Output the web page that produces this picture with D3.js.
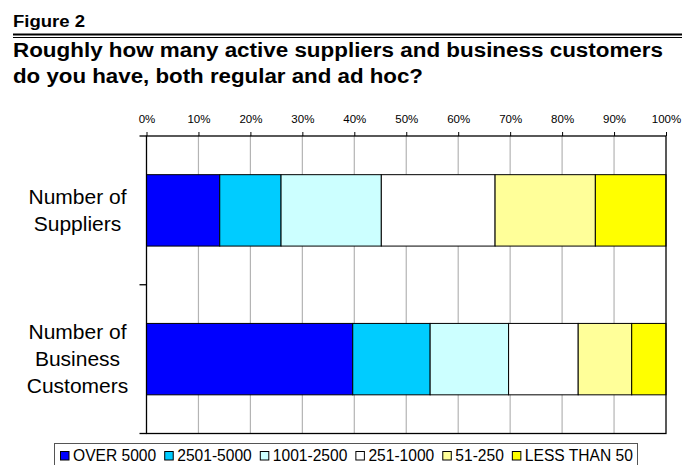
<!DOCTYPE html>
<html>
<head>
<meta charset="utf-8">
<script src="https://cdn.jsdelivr.net/npm/d3@7"></script>
<style>
  html, body { margin: 0; padding: 0; background: #fff; }
  svg { display: block; font-family: "Liberation Sans", Arial, sans-serif; }
</style>
</head>
<body>
<svg id="chart" width="682" height="465"></svg>
<script>
// Survey answers, share of respondents per size band (percent)
const categories = ["Number of\nSuppliers", "Number of\nBusiness\nCustomers"];
const bands = ["OVER 5000", "2501-5000", "1001-2500", "251-1000", "51-250", "LESS THAN 50"];
const suppliers = [14.1, 11.8, 19.3, 21.9, 19.3, 13.6];
const customers = [39.7, 14.9, 15.1, 13.4, 10.3, 6.6];
const tickValues = [0, 10, 20, 30, 40, 50, 60, 70, 80, 90, 100];
const bandColors = ["#0000FF", "#00CCFF", "#CCFFFF", "#FFFFFF", "#FFFF99", "#FFFF00"];

const seriesByCategory = [suppliers, customers];

const svg = d3.select("#chart");

// Header
svg.append("text")
  .attr("x", 13).attr("y", 27)
  .attr("font-size", 16).attr("font-weight", "bold")
  .attr("textLength", 72).attr("lengthAdjust", "spacingAndGlyphs")
  .text("Figure 2");
svg.append("line").attr("x1", 13).attr("x2", 682).attr("y1", 34.5).attr("y2", 34.5)
  .attr("stroke", "#000").attr("stroke-width", 2);
svg.append("line").attr("x1", 13).attr("x2", 682).attr("y1", 37.5).attr("y2", 37.5)
  .attr("stroke", "#000").attr("stroke-width", 1);
const titleLines = [
  { t: "Roughly how many active suppliers and business customers", w: 650, y: 57 },
  { t: "do you have, both regular and ad hoc?", w: 410, y: 83 }
];
svg.selectAll("text.title").data(titleLines).join("text")
  .attr("class", "title")
  .attr("x", 13).attr("y", d => d.y)
  .attr("font-size", 19.5).attr("font-weight", "bold")
  .attr("textLength", d => d.w).attr("lengthAdjust", "spacingAndGlyphs")
  .text(d => d.t);

// Plot geometry
const plotLeft = 146.5, plotRight = 666, plotTop = 136, plotBottom = 433.5;
const x = d3.scaleLinear().domain([0, 100]).range([plotLeft, plotRight]);
const y = d3.scaleBand().domain(categories).range([plotTop, plotBottom]).padding(0);
const barH = y.bandwidth() * 0.48;

// Vertical gridlines
svg.append("g").selectAll("line").data(tickValues.slice(1, -1)).join("line")
  .attr("x1", d => x(d)).attr("x2", d => x(d))
  .attr("y1", plotTop).attr("y2", plotBottom)
  .attr("stroke", "#b4b4b4").attr("stroke-width", 1.2);

// Stacked bars
const stackRows = categories.map((c, i) => {
  let acc = 0;
  return seriesByCategory[i].map((v, j) => {
    const seg = { cat: c, band: j, x0: acc, x1: acc + v };
    acc += v;
    return seg;
  });
}).flat();

svg.append("g").selectAll("rect").data(stackRows).join("rect")
  .attr("x", d => x(d.x0))
  .attr("width", d => x(d.x1) - x(d.x0))
  .attr("y", d => y(d.cat) + (y.bandwidth() - barH) / 2)
  .attr("height", barH)
  .attr("fill", d => bandColors[d.band])
  .attr("stroke", "#000").attr("stroke-width", 1);

// Plot frame
svg.append("rect")
  .attr("x", plotLeft).attr("y", plotTop)
  .attr("width", plotRight - plotLeft).attr("height", plotBottom - plotTop)
  .attr("fill", "none").attr("stroke", "#000").attr("stroke-width", 1.3);

// Top percentage axis
const xAxis = d3.axisTop(x)
  .tickValues(tickValues)
  .tickSize(4)
  .tickFormat(d => d + "%");
const gx = svg.append("g").attr("transform", `translate(0,${plotTop})`).call(xAxis);
gx.select(".domain").remove();
gx.selectAll(".tick line").attr("stroke", "#000");
gx.selectAll(".tick text")
  .attr("font-family", "Liberation Sans, Arial, sans-serif")
  .attr("font-size", 11.5).attr("fill", "#000").attr("dy", "-0.55em");

// Category separator ticks on the left edge
const sepY = [plotTop].concat(categories.map(c => y(c) + y.bandwidth()));
svg.append("g").selectAll("line").data(sepY).join("line")
  .attr("x1", plotLeft - 7).attr("x2", plotLeft)
  .attr("y1", d => d).attr("y2", d => d)
  .attr("stroke", "#000").attr("stroke-width", 1.3);

// Category labels
const lineGap = 27;
categories.forEach(c => {
  const lines = c.split("\n");
  const cy = y(c) + y.bandwidth() / 2;
  svg.append("text")
    .attr("text-anchor", "middle")
    .attr("font-size", 21)
    .selectAll("tspan").data(lines).join("tspan")
    .attr("x", 77.5)
    .attr("y", (d, i) => cy + (i - (lines.length - 1) / 2) * lineGap + 7)
    .text(d => d);
});

// Legend
const lg = svg.append("g");
lg.append("rect")
  .attr("x", 54.5).attr("y", 443.5).attr("width", 583).attr("height", 30)
  .attr("fill", "#fff").attr("stroke", "#555").attr("stroke-width", 1);
let lx = 60;
bands.forEach((b, i) => {
  lg.append("rect")
    .attr("x", lx + 0.5).attr("y", 451.5).attr("width", 8.5).attr("height", 8.5)
    .attr("fill", bandColors[i]).attr("stroke", "#000").attr("stroke-width", 1);
  const t = lg.append("text")
    .attr("x", lx + 13).attr("y", 460.5)
    .attr("font-size", 15.6)
    .text(b);
  lx += 13 + t.node().getComputedTextLength() + 8;
});
</script>
</body>
</html>
